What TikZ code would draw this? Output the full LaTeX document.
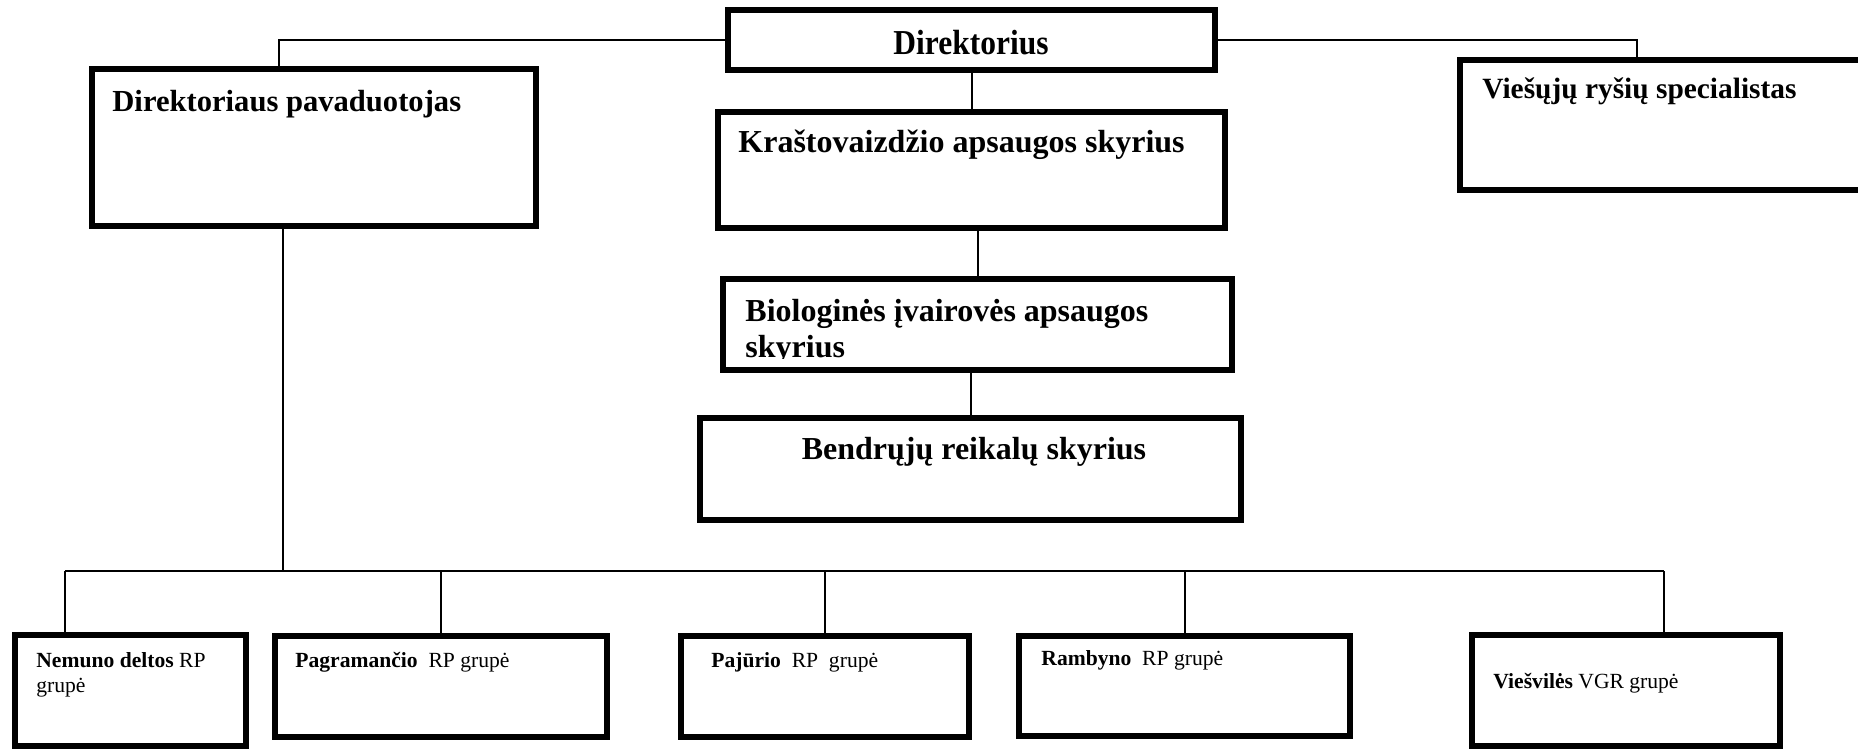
\documentclass[tikz,border=0pt]{standalone}
\usepackage{fontspec}
\setmainfont{Liberation Serif}
\usepackage{graphicx}
\usetikzlibrary{fit}

\tikzset{
  unit/.style={draw, line width=3.2pt, inner sep=0pt, rectangle},
  link/.style={line width=1pt},
  bigtext/.style={anchor=base west, inner sep=0pt, align=left,
    font=\bfseries\fontsize{16}{18}\selectfont},
  smalltext/.style={anchor=base west, inner sep=0pt, align=left,
    font=\fontsize{10.8}{12.5}\selectfont}
}

\begin{document}
\begin{tikzpicture}
    [x=0.5pt, y=-0.5pt]

    \useasboundingbox (0, 0) rectangle (1858, 750);

    % top part
    \node [unit, fit={(728, 10) (1215, 70)}] (dir) {};
    \node [unit, fit={(92, 69) (536, 226)}] (dep) {};
    \node [unit, fit={(718, 112) (1225, 228)}] (kra) {};
    \node [unit, fit={(1460, 60) (1866, 190)}] (vie) {};
    \node [unit, fit={(723, 279) (1232, 370)}] (bio) {};
    \node [unit, fit={(700, 418) (1241, 520)}] (ben) {};

    \node [anchor=base, inner sep=0pt, font=\bfseries\fontsize{17.5}{20}\selectfont]
      at (971, 54) (dirtxt) {\scalebox{0.9}[1]{Direktorius}};
    \node [bigtext, font=\bfseries\fontsize{15.3}{18}\selectfont]
      at (112, 111) (deptxt) {Direktoriaus pavaduotojas};
    \node [bigtext] at (738, 152) (kratxt) {Kraštovaizdžio apsaugos skyrius};
    \node [bigtext, font=\bfseries\fontsize{14.7}{18}\selectfont]
      at (1482, 98) (vietxt) {Viešųjų ryšių specialistas};
    % last line sits on the given point
    \begin{scope}
      \clip (723, 279) rectangle (1232, 358);
      \node [bigtext] at (745, 357) (biotxt) {Biologinės įvairovės apsaugos\\skyrius};
    \end{scope}
    \node [bigtext, anchor=base] at (974, 459) (bentxt) {Bendrųjų reikalų skyrius};

    % groups
    \node [unit, fit={(15, 635) (246, 746)}] (nem) {};
    \node [unit, fit={(275, 636) (607, 737)}] (pag) {};
    \node [unit, fit={(681, 636) (969, 737)}] (paj) {};
    \node [unit, fit={(1019, 636) (1350, 736)}] (ram) {};
    \node [unit, fit={(1472, 635) (1780, 746)}] (vsv) {};

    \node [smalltext] at (36, 692) (nemtxt) {\textbf{Nemuno deltos} RP\\grupė};
    \node [smalltext] at (295, 667) (pagtxt) {\textbf{Pagramančio}\ \ RP grupė};
    \node [smalltext] at (711, 667) (pajtxt) {\textbf{Pajūrio}\ \ RP\ \ grupė};
    \node [smalltext] at (1041, 665) (ramtxt) {\textbf{Rambyno}\ \ RP grupė};
    \node [smalltext] at (1493, 688) (vsvtxt) {\textbf{Viešvilės} VGR grupė};

    \coordinate (depup) at (279, 40);
    \coordinate (vieup) at (1637, 40);
    \coordinate (depdown) at (283, 571);
    \coordinate (busL) at (65, 571);
    \coordinate (busR) at (1664, 571);

    \draw [link] (dir.west) -- (depup) -- (depup |- dep.north);
    \draw [link] (dir.east) -- (vieup) -- (vieup |- vie.north);
    \draw [link] (dir.south) -- (dir.south |- kra.north);
    \draw [link] (bio.north) -- (bio.north |- kra.south);
    \draw [link] (ben.north) -- (ben.north |- bio.south);

    \draw [link] (depdown |- dep.south) -- (depdown);
    \draw [link] (busL) -- (busR);
    \draw [link] (busL) -- (busL |- nem.north);
    \draw [link] (pag.north) -- (pag.north |- busL);
    \draw [link] (paj.north) -- (paj.north |- busL);
    \draw [link] (ram.north) -- (ram.north |- busL);
    \draw [link] (busR) -- (busR |- vsv.north);

  \end{tikzpicture}
\end{document}
